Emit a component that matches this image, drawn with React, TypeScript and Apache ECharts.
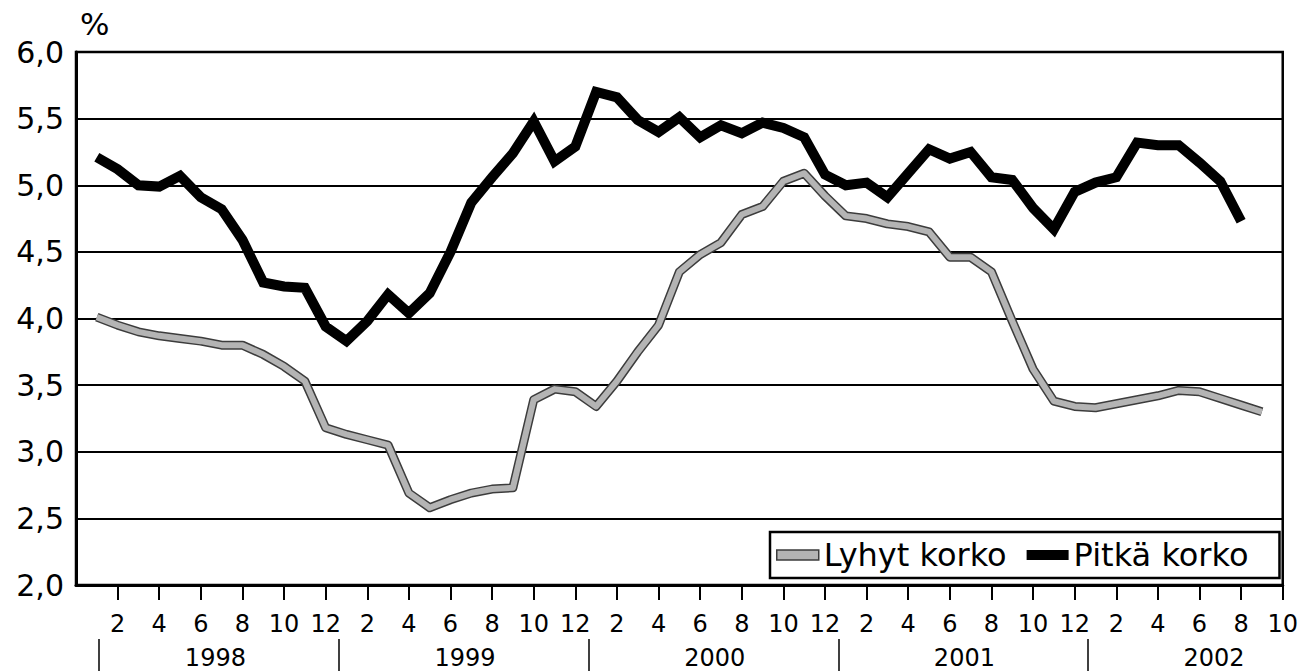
import React, { useEffect, useRef } from 'react';
import * as echarts from 'echarts';

// Years shown under the month axis
const years = ['1998', '1999', '2000', '2001', '2002'];
// Series names
const seriesNames = ['Lyhyt korko', 'Pitkä korko'];
// Monthly values, first value = January 1998
const shortRate = [
  4.01, 3.95, 3.90, 3.87, 3.85, 3.83, 3.80, 3.80, 3.73, 3.64, 3.53, 3.18,
  3.13, 3.09, 3.05, 2.69, 2.58, 2.64, 2.69, 2.72, 2.73, 3.39, 3.47, 3.45,
  3.34, 3.53, 3.75, 3.95, 4.35, 4.48, 4.57, 4.78, 4.84, 5.03, 5.09, 4.92,
  4.77, 4.75, 4.71, 4.69, 4.65, 4.46, 4.46, 4.35, 3.98, 3.62, 3.38, 3.34,
  3.33, 3.36, 3.39, 3.42, 3.46, 3.45, 3.40, 3.35, 3.30,
];
const longRate = [
  5.21, 5.12, 5.00, 4.99, 5.07, 4.91, 4.82, 4.59, 4.27, 4.24, 4.23, 3.94,
  3.83, 3.98, 4.18, 4.04, 4.19, 4.50, 4.87, 5.06, 5.24, 5.48, 5.18, 5.29,
  5.70, 5.66, 5.49, 5.40, 5.51, 5.36, 5.45, 5.39, 5.47, 5.43, 5.36, 5.08,
  5.00, 5.02, 4.91, 5.09, 5.27, 5.20, 5.25, 5.06, 5.04, 4.83, 4.67, 4.95,
  5.02, 5.06, 5.32, 5.30, 5.30, 5.17, 5.03, 4.73,
];
// Axis range (month index 0 = December 1997, 58 = October 2002)
const xMin = 0;
const xMax = 58;
const yMin = 2;
const yMax = 6;
const yStep = 0.5;

const FONT = 'DejaVu Sans';

export default function App() {
  const ref = useRef<HTMLDivElement>(null);

  useEffect(() => {
    if (!ref.current) return;
    const chart = echarts.init(ref.current, null, { renderer: 'svg' });
    const toPairs = (arr: number[]) => arr.map((v, i) => [i + 1, v]);
    // year separators (between December and January) and year label centres
    const sepValues = years.map((_, i) => (i === 0 ? 1.1 : i * 12 + 0.65));
    const yearLabelValues = years.map((_, i) => i * 12 + 6.7);

    chart.setOption({
      animation: false,
      backgroundColor: '#ffffff',
      grid: {
        left: 76,
        right: 18,
        top: 52,
        bottom: 87,
        show: true,
        borderColor: '#000',
        borderWidth: 2.5,
        backgroundColor: 'transparent',
      },
      legend: {
        left: 770,
        top: 532,
        orient: 'horizontal',
        padding: [7, 31, 7, 6],
        itemGap: 20,
        itemWidth: 42,
        itemHeight: 10,
        borderColor: '#000',
        borderWidth: 2.5,
        backgroundColor: '#fff',
        selectedMode: false,
        textStyle: { fontSize: 32, fontFamily: FONT, color: '#000' },
        data: [
          {
            name: seriesNames[0],
            icon: 'rect',
            itemStyle: { color: '#b4b4b4', borderColor: '#3c3c3c', borderWidth: 1.5 },
          },
          { name: seriesNames[1], icon: 'rect', itemStyle: { color: '#000' } },
        ],
      },
      graphic: [
        {
          type: 'text',
          left: 80,
          top: 8,
          style: { text: '%', fontSize: 31, fontFamily: FONT, fill: '#000' },
        },
      ],
      xAxis: [
        {
          type: 'value',
          min: xMin,
          max: xMax,
          interval: 2,
          axisLine: { show: true, onZero: false, lineStyle: { color: '#000', width: 3 } },
          axisTick: { show: true, length: 15, lineStyle: { color: '#000', width: 2 } },
          splitLine: { show: false },
          axisLabel: {
            margin: 27,
            fontSize: 24,
            fontFamily: FONT,
            color: '#000',
            showMinLabel: false,
            showMaxLabel: true,
            formatter: (v: number) => (v <= 0 ? '' : String(((v - 1) % 12) + 1)),
          },
        },
        {
          type: 'value',
          min: xMin,
          max: xMax,
          position: 'bottom',
          offset: 54,
          axisLine: { show: true, onZero: false, lineStyle: { color: 'rgba(0,0,0,0)', width: 0 } },
          axisTick: {
            show: true,
            customValues: sepValues,
            length: 32,
            lineStyle: { color: '#000', width: 1.5 },
          },
          splitLine: { show: false },
          axisLabel: {
            customValues: yearLabelValues,
            margin: 7,
            fontSize: 24,
            fontFamily: FONT,
            color: '#000',
            formatter: (v: number) => years[Math.floor(v / 12)] ?? '',
          },
        },
      ],
      yAxis: {
        type: 'value',
        min: yMin,
        max: yMax,
        interval: yStep,
        axisLine: { show: true, lineStyle: { color: '#000', width: 3 } },
        axisTick: { show: false },
        splitLine: { show: true, lineStyle: { color: '#000', width: 2 } },
        axisLabel: {
          margin: 12,
          fontSize: 30,
          fontFamily: FONT,
          color: '#000',
          padding: [10, 0, 0, 0],
          formatter: (v: number) => v.toFixed(1).replace('.', ','),
        },
      },
      series: [
        {
          name: seriesNames[0] + ' (reuna)',
          type: 'line',
          data: toPairs(shortRate),
          symbol: 'none',
          silent: true,
          z: 2,
          lineStyle: { color: '#3c3c3c', width: 9, join: 'round' },
          itemStyle: { color: '#3c3c3c' },
        },
        {
          name: seriesNames[0],
          type: 'line',
          data: toPairs(shortRate),
          symbol: 'none',
          z: 3,
          lineStyle: { color: '#b4b4b4', width: 6, join: 'round' },
          itemStyle: { color: '#b4b4b4' },
        },
        {
          name: seriesNames[1],
          type: 'line',
          data: toPairs(longRate),
          symbol: 'none',
          z: 4,
          lineStyle: { color: '#000', width: 10, join: 'miter' },
          itemStyle: { color: '#000' },
        },
      ],
    });

    return () => chart.dispose();
  }, []);

  return (
    <div
      ref={ref}
      style={{ position: 'fixed', left: 0, top: 0, width: 1301, height: 672, background: '#fff' }}
    />
  );
}
